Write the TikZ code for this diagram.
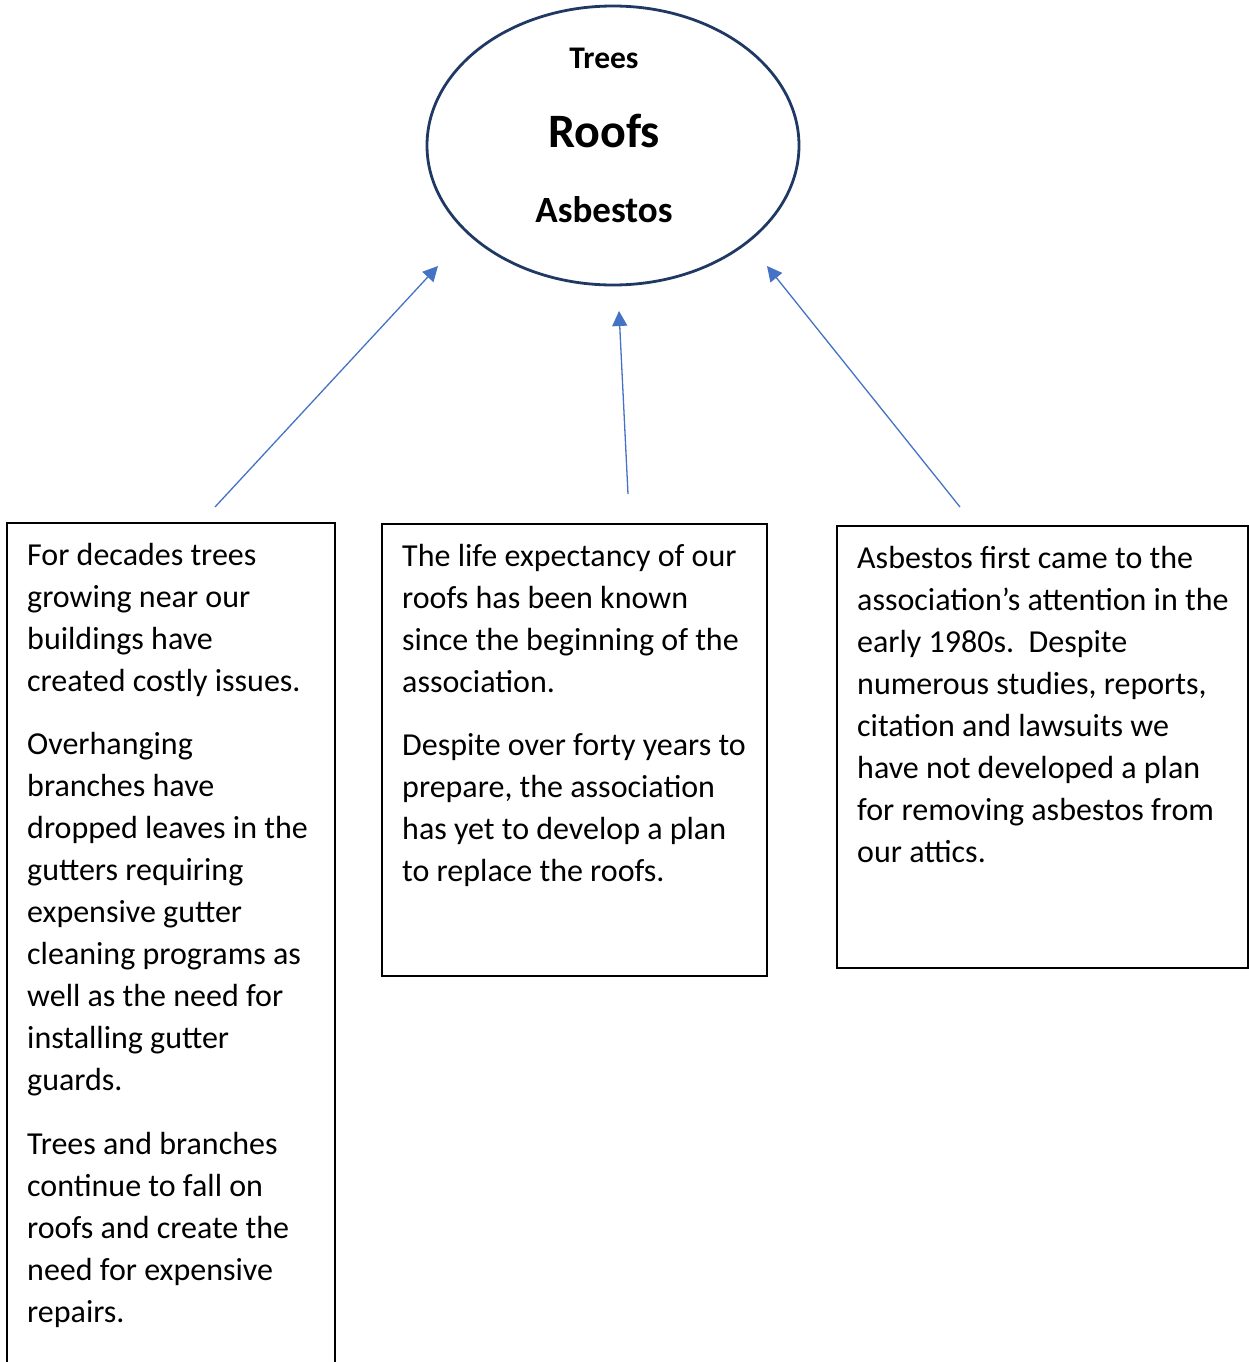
\documentclass[tikz,border=0pt]{standalone}
\usepackage{fontspec}
\setmainfont{Carlito}
\usetikzlibrary{arrows.meta,shapes.geometric}
\definecolor{navy}{HTML}{1F3864}
\definecolor{arrowblue}{HTML}{4472C4}
\begin{document}
\begin{tikzpicture}[x=1pt,y=-1pt,
  box/.style={draw=black, line width=2pt, anchor=north west, inner sep=0pt},
  body/.style={font=\fontsize{32}{42}\selectfont, align=left, anchor=north west, inner sep=0pt},
  conn/.style={draw=arrowblue, line width=1.3pt, -{Triangle[length=15pt,width=15pt]}},
  hubtext/.style={anchor=base, inner sep=0pt}]
\clip (0,0) rectangle (1249,1362);
% central ellipse
\node[draw=navy, line width=2.8pt, ellipse, minimum width=372pt, minimum height=279pt, inner sep=0pt] (hub) at (613,145.5) {};
\node[hubtext, font=\bfseries\fontsize{31.5}{36}\selectfont] (trees) at (604,69) {Trees};
\node[hubtext, font=\bfseries\fontsize{48}{54}\selectfont] (roofs) at (604,147) {Roofs};
\node[hubtext, font=\bfseries\fontsize{37}{44}\selectfont] (asb) at (604,222) {Asbestos};
% boxes
\node[box, minimum width=328pt, minimum height=900pt] (lbox) at (6,522) {};
\node[box, minimum width=385pt, minimum height=452pt] (mbox) at (381,523) {};
\node[box, minimum width=411pt, minimum height=442pt] (rbox) at (836,525) {};
% texts
\node[body] (ltext) at (27,540) {\rule{0pt}{25pt}For decades trees\\
growing near our\\
buildings have\\
created costly issues.\\[21pt]
Overhanging\\
branches have\\
dropped leaves in the\\
gutters requiring\\
expensive gutter\\
cleaning programs as\\
well as the need for\\
installing gutter\\
guards.\\[22pt]
Trees and branches\\
continue to fall on\\
roofs and create the\\
need for expensive\\
repairs.};
\node[body] (mtext) at (402,541) {\rule{0pt}{25pt}The life expectancy of our\\
roofs has been known\\
since the beginning of the\\
association.\\[21pt]
Despite over forty years to\\
prepare, the association\\
has yet to develop a plan\\
to replace the roofs.};
\node[body] (rtext) at (857,543) {\rule{0pt}{25pt}Asbestos first came to the\\
association’s attention in the\\
early 1980s.\ \ Despite\\
numerous studies, reports,\\
citation and lawsuits we\\
have not developed a plan\\
for removing asbestos from\\
our attics.};
% connectors
\coordinate (l0) at (215,507);
\coordinate (l1) at (438,266);
\coordinate (m0) at (628,494);
\coordinate (m1) at (619,311);
\coordinate (r0) at (960,507);
\coordinate (r1) at (767,266);
\draw[conn] (l0) -- (l1);
\draw[conn] (m0) -- (m1);
\draw[conn] (r0) -- (r1);
\end{tikzpicture}
\end{document}
